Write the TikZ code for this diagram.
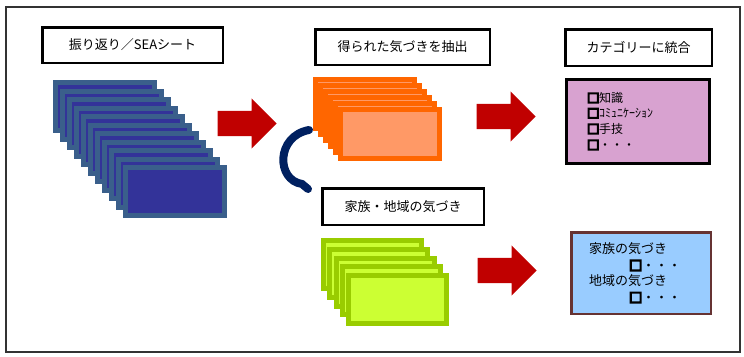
\documentclass[tikz,border=0pt]{standalone}
\usepackage{fontspec}
\setmainfont{Noto Sans CJK JP}
\usetikzlibrary{shapes.arrows}
\definecolor{sheetfill}{HTML}{333399}
\definecolor{sheetline}{HTML}{3A5F8B}
\definecolor{orfill}{HTML}{FF9966}
\definecolor{orline}{HTML}{FF6600}
\definecolor{grfill}{HTML}{CCFF33}
\definecolor{grline}{HTML}{99CC00}
\definecolor{arrred}{HTML}{C00000}
\definecolor{navyc}{HTML}{002060}
\definecolor{pinkbox}{HTML}{D8A2D0}
\definecolor{skybox}{HTML}{99CCFF}
\definecolor{brownline}{HTML}{663333}
\tikzset{
  lbl/.style={draw=black, line width=2.5pt, fill=white, inner sep=0pt,
    font=\fontsize{13}{15}\selectfont},
  bluesheet/.style={draw=sheetline, fill=sheetfill, line width=5pt, inner sep=0pt,
    minimum width=99pt, minimum height=48pt},
  orsheet/.style={draw=orline, fill=orfill, line width=5pt, inner sep=0pt,
    minimum width=99pt, minimum height=49pt},
  grsheet/.style={draw=grline, fill=grfill, line width=5pt, inner sep=0pt,
    minimum width=98pt, minimum height=48pt},
  bigarrow/.style={single arrow, fill=arrred, draw=none, inner sep=12.5pt,
    minimum height=59pt, single arrow head extend=12.5pt, anchor=tip},
  itemtxt/.style={anchor=west, inner sep=0pt, font=\fontsize{12}{14}\selectfont},
  famtxt/.style={anchor=west, inner sep=0pt, font=\fontsize{13}{15}\selectfont},
  swirl/.style={draw=navyc, line width=8pt, line cap=round}
}
\newcommand{\sqbox}{\special{pdf:literal direct 2 Tr 1.6 w}□\special{pdf:literal direct 0 Tr 1 w}}
\begin{document}
\begin{tikzpicture}[x=1pt,y=-1pt]
\useasboundingbox (0,0) rectangle (744,356);
% outer frame
\node[draw=black!80, line width=2pt, minimum width=734pt, minimum height=345pt, inner sep=0pt] (frame) at (373,179.5) {};
% labels
\node[lbl, minimum width=180.5pt, minimum height=35.5pt] (l1) at (132.5,45) {振り返り／SEAシート};
\node[lbl, minimum width=174.5pt, minimum height=35.5pt] (l2) at (402.5,47) {得られた気づきを抽出};
\node[lbl, minimum width=146.5pt, minimum height=36.5pt] (l3) at (638.5,47.5) {カテゴリーに統合};
\node[lbl, minimum width=161.5pt, minimum height=36.5pt] (l4) at (403,206.5) {家族・地域の気づき};
% blue sheet stack
\foreach \i in {0,...,10}
  \node[bluesheet] (b\i) at ({105+7*\i},{106.5+8.5*\i}) {};
% orange stack
\foreach \i in {0,...,5}
  \node[orsheet] (o\i) at ({365+5*\i},{104+6*\i}) {};
% green stack
\foreach \i in {0,...,4}
  \node[grsheet] (g\i) at ({372.5+6.25*\i},{264.5+8.75*\i}) {};
% big arrows
\node[bigarrow] (a1) at (277,123.5) {};
\node[bigarrow] (a2) at (536,116.5) {};
\node[bigarrow] (a3) at (537,270.5) {};
% curved connector
\coordinate (cs) at (309,130);
\coordinate (ce) at (308,189);
\draw[swirl] (cs) .. controls (276,136) and (276,180) .. (302,184) -- (ce);
% category box
\node[draw=black, line width=3pt, fill=pinkbox, minimum width=143pt, minimum height=84pt, inner sep=0pt] (cat) at (638,121.5) {};
\node[itemtxt] (c1) at (587,98) {\sqbox 知識};
\node[itemtxt] (c2) at (587,113.5) {\sqbox ｺﾐｭﾆｹｰｼｮﾝ};
\node[itemtxt] (c3) at (587,129) {\sqbox 手技};
\node[itemtxt] (c4) at (587,145) {\sqbox ・・・};
% family/region box
\node[draw=brownline, line width=2.5pt, fill=skybox, minimum width=139.5pt, minimum height=81.5pt, inner sep=0pt] (fr) at (641,273) {};
\node[famtxt] (f1) at (589,249) {家族の気づき};
\node[famtxt] (f2) at (629,265.5) {\sqbox ・・・};
\node[famtxt] (f3) at (589,281) {地域の気づき};
\node[famtxt] (f4) at (629,297.5) {\sqbox ・・・};
\end{tikzpicture}
\end{document}
